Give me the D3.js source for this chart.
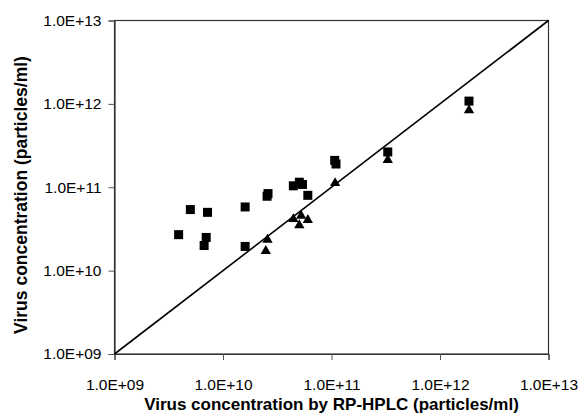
<!DOCTYPE html>
<html>
<head>
<meta charset="utf-8">
<script src="https://cdn.jsdelivr.net/npm/d3@7"></script>
<style>
  body { margin: 0; background: #fff; }
  text { font-family: "Liberation Sans", Arial, sans-serif; fill: #000; }
</style>
</head>
<body>
<div id="chart"></div>
<script>

var width = 578,
    height = 414;

// plot box (pixels)
var margin = {top: 20.5, right: 30, bottom: 60, left: 114.5};

// squares: [x (RP-HPLC), y]
var squareX = [3.9e9, 5.0e9, 7.2e9, 7.0e9, 6.7e9, 1.6e10, 1.6e10, 2.55e10, 2.6e10,
               4.45e10, 5.05e10, 5.4e10, 6.05e10, 1.07e11, 1.1e11, 3.3e11, 1.85e12];
var squareY = [2.7e10, 5.4e10, 5.0e10, 2.5e10, 2.0e10, 5.8e10, 1.95e10, 7.8e10, 8.4e10,
               1.04e11, 1.15e11, 1.08e11, 8.0e10, 2.1e11, 1.9e11, 2.65e11, 1.08e12];

// triangles
var triX = [2.57e10, 2.48e10, 4.45e10, 5.05e10, 5.25e10, 6.05e10, 1.08e11, 3.3e11, 1.85e12];
var triY = [2.35e10, 1.72e10, 4.15e10, 3.5e10, 4.55e10, 4.05e10, 1.12e11, 2.12e11, 8.4e11];

var tickValues = [1e9, 1e10, 1e11, 1e12, 1e13];

var svg = d3.select("#chart").append("svg")
    .attr("width", width)
    .attr("height", height);

var x = d3.scaleLog()
    .domain([1e9, 1e13])
    .range([margin.left, width - margin.right + 0.5]);

var y = d3.scaleLog()
    .domain([1e9, 1e13])
    .range([height - margin.bottom, margin.top]);

function fmt(d) {
  return "1.0E+" + d3.format("02d")(Math.round(Math.log10(d)));
}

// frame
svg.append("rect")
    .attr("x", x(1e9))
    .attr("y", y(1e13))
    .attr("width", x(1e13) - x(1e9))
    .attr("height", y(1e9) - y(1e13))
    .attr("fill", "none")
    .attr("stroke", "#333")
    .attr("stroke-width", 1.2);

// axes
var xAxis = svg.append("g")
    .attr("transform", "translate(0," + y(1e9) + ")")
    .call(d3.axisBottom(x).tickValues(tickValues).tickFormat(fmt).tickSize(6).tickPadding(19));

var yAxis = svg.append("g")
    .attr("transform", "translate(" + x(1e9) + ",0)")
    .call(d3.axisLeft(y).tickValues(tickValues).tickFormat(fmt).tickSize(6).tickPadding(7));

[xAxis, yAxis].forEach(function(a) {
  a.select(".domain").attr("stroke", "#333").attr("stroke-width", 1.2);
  a.selectAll(".tick line").attr("stroke", "#555");
  a.selectAll(".tick text")
      .style("font-family", "'Liberation Sans', Arial, sans-serif")
      .style("font-size", "15.5px")
      .attr("fill", "#000");
});

// y = x line
svg.append("line")
    .attr("x1", x(1e9)).attr("y1", y(1e9))
    .attr("x2", x(1e13)).attr("y2", y(1e13))
    .attr("stroke", "#000")
    .attr("stroke-width", 1.6);

// squares
svg.selectAll(".sq")
    .data(d3.range(squareX.length))
  .enter().append("rect")
    .attr("class", "sq")
    .attr("x", function(i) { return x(squareX[i]) - 4.5; })
    .attr("y", function(i) { return y(squareY[i]) - 4.5; })
    .attr("width", 9)
    .attr("height", 9)
    .attr("fill", "#000");

// triangles
var tri = d3.symbol().type(d3.symbolTriangle).size(46);
svg.selectAll(".tri")
    .data(d3.range(triX.length))
  .enter().append("path")
    .attr("class", "tri")
    .attr("d", tri)
    .attr("transform", function(i) {
      return "translate(" + x(triX[i]) + "," + y(triY[i]) + ")";
    })
    .attr("fill", "#000");

// axis titles
svg.append("text")
    .attr("x", (x(1e9) + x(1e13)) / 2)
    .attr("y", 410)
    .attr("text-anchor", "middle")
    .style("font-size", "17px")
    .style("font-weight", "bold")
    .text("Virus concentration by RP-HPLC (particles/ml)");

svg.append("text")
    .attr("transform", "translate(27,195) rotate(-90)")
    .attr("text-anchor", "middle")
    .style("font-size", "17.5px")
    .style("font-weight", "bold")
    .text("Virus concentration (particles/ml)");

</script>
</body>
</html>
